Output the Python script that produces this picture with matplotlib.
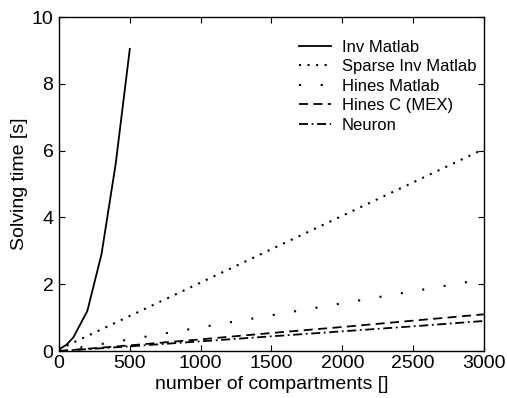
import matplotlib
matplotlib.use("Agg")
import matplotlib.pyplot as plt

plt.rcParams['font.family'] = ['Liberation Sans', 'DejaVu Sans']

inv_x = [0, 50, 100, 200, 300, 400, 500]
inv_y = [0.05, 0.18, 0.4, 1.2, 2.9, 5.6, 9.05]

lin_x = [0, 500, 1000, 1500, 2000, 2500, 3000]
sparse_y = [0.05, 1.05, 2.05, 3.05, 4.05, 5.05, 6.05]
hines_y = [0.0, 0.35, 0.71, 1.07, 1.43, 1.79, 2.15]
hinesc_y = [0.0, 0.17, 0.35, 0.54, 0.72, 0.91, 1.1]
neuron_y = [0.0, 0.14, 0.29, 0.44, 0.59, 0.74, 0.9]

fig = plt.figure(figsize=(5.07, 3.98), dpi=100)
ax = fig.add_axes([0.1164, 0.118, 0.838, 0.839])

ax.plot(inv_x, inv_y, color='black', lw=1.3, ls='-', label='Inv Matlab')
ax.plot(lin_x, sparse_y, color='black', lw=1.5, ls=(0, (1, 3.1)), label='Sparse Inv Matlab')
ax.plot(lin_x, hines_y, color='black', lw=1.5, ls=(0, (1, 9.4)), label='Hines Matlab')
ax.plot(lin_x, hinesc_y, color='black', lw=1.3, ls=(0, (5, 3)), label='Hines C (MEX)')
ax.plot(lin_x, neuron_y, color='black', lw=1.3, ls=(0, (5, 2, 1, 2)), label='Neuron')

ax.set_xlim(0, 3000)
ax.set_ylim(0, 10)
ax.set_xticks([0, 500, 1000, 1500, 2000, 2500, 3000])
ax.set_yticks([0, 2, 4, 6, 8, 10])
ax.tick_params(direction='in', top=True, right=True, labelsize=14, length=4, width=0.8)
ax.tick_params(axis='x', pad=3)
ax.tick_params(axis='y', pad=4)
for s in ax.spines.values():
    s.set_linewidth(1.0)
ax.set_xlabel('number of compartments []', fontsize=14, labelpad=3)
ax.set_ylabel('Solving time [s]', fontsize=14, labelpad=3)

ax.legend(loc='upper right', frameon=False, fontsize=12, handlelength=1.9,
          handletextpad=0.65, labelspacing=0.27, borderaxespad=0.0,
          bbox_to_anchor=(0.998, 0.952))

fig.savefig('out.png', dpi=100)
